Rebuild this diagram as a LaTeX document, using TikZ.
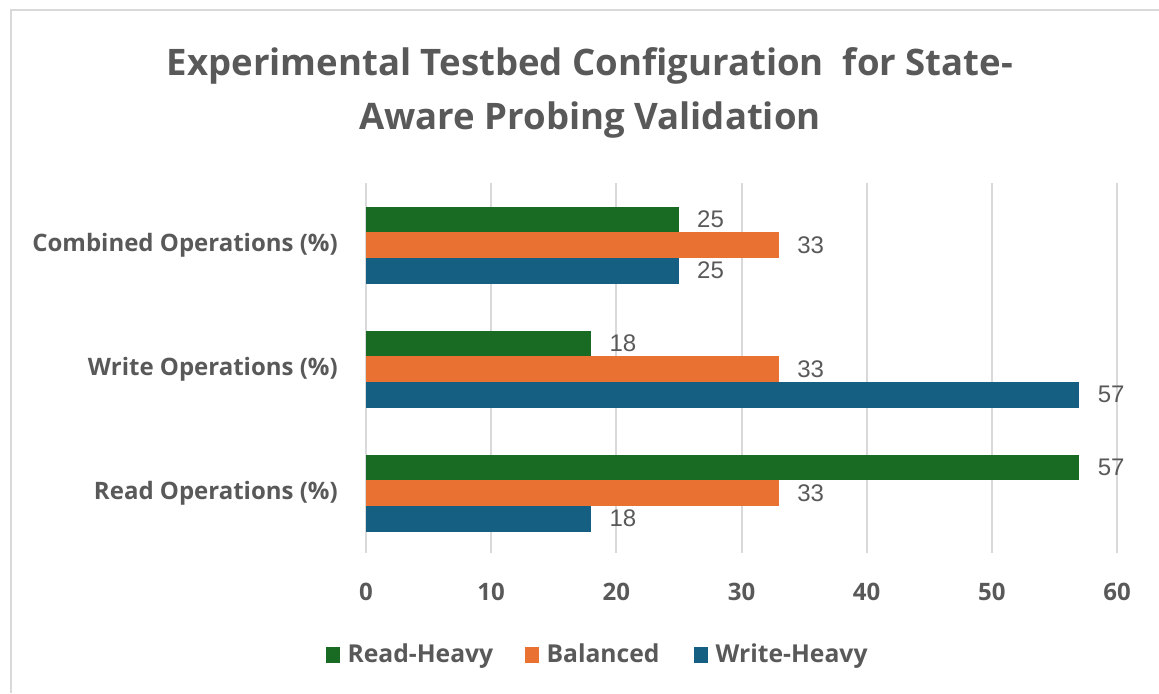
\documentclass[tikz,border=0pt]{standalone}
\usepackage{fontspec}
\setmainfont{Open Sans}
\newfontfamily\valuefont{Liberation Sans}
\usetikzlibrary{positioning}
\definecolor{readheavy}{HTML}{196B24}
\definecolor{balanced}{HTML}{E97132}
\definecolor{writeheavy}{HTML}{156082}
\definecolor{charttext}{HTML}{595959}
\definecolor{gridgray}{HTML}{D9D9D9}
\tikzset{
  frame line/.style={draw=gridgray, line width=1.5pt},
  grid line/.style={draw=gridgray, line width=1.5pt},
  chart title/.style={
    text=charttext,
    font=\bfseries\fontsize{27.4}{41}\selectfont,
    align=center,
  },
  cat label/.style={
    anchor=east, inner sep=0pt, text=charttext,
    font=\bfseries\fontsize{18}{18}\selectfont,
  },
  tick label/.style={
    inner sep=0pt, text=charttext,
    font=\bfseries\fontsize{18}{18}\selectfont,
  },
  value label/.style={
    anchor=west, inner sep=0pt, text=charttext,
    font=\valuefont\fontsize{18}{18}\selectfont,
  },
  legend key/.style={
    fill=#1, minimum width=11pt, minimum height=11.5pt, inner sep=0pt,
  },
  legend label/.style={
    inner sep=0pt, text=charttext,
    font=\bfseries\fontsize{18.5}{18.5}\selectfont,
  },
}

\begin{document}
\begin{tikzpicture}[x=0.75pt, y=-0.75pt]
        \useasboundingbox (0,0) rectangle (1159,693);
        \draw[frame line] (10.5,693) -- (10.5,10) -- (1159,10);

        \node[chart title] (title) at (590,93)
            {Experimental Testbed Configuration\ \ for State-\\Aware Probing Validation};

        % gridlines and axis numbers
        \foreach \t in {0,10,...,60} {
            \draw[grid line] (366+12.517*\t,183) -- (366+12.517*\t,553);
            \node[tick label] (tick\t) at (366+12.517*\t,592) {\t};
        }

        % bars: centre y / read-heavy / balanced / write-heavy
        \foreach \y/\r/\b/\w in {245/25/33/25, 369/18/33/57, 493/57/33/18} {
            \fill[readheavy] (366,\y-38.5) rectangle ++(12.517*\r,25.7);
            \fill[balanced] (366,\y-12.8) rectangle ++(12.517*\b,25.6);
            \fill[writeheavy] (366,\y+12.8) rectangle ++(12.517*\w,25.7);
            \node[value label] (val r\y) at (384+12.517*\r,\y-25.7) {\r};
            \node[value label] (val b\y) at (384+12.517*\b,\y) {\b};
            \node[value label] (val w\y) at (384+12.517*\w,\y+25.7) {\w};
        }

        \node[cat label] (combined) at (338,245) {Combined Operations (\%)};
        \node[cat label] (write) at (338,369) {Write Operations (\%)};
        \node[cat label] (read) at (338,493) {Read Operations (\%)};

        % legend
        \node[legend key=readheavy] (key r) at (333,655) {};
        \node[legend label, right=5pt of key r.south east, anchor=base west] (lab r) {Read-Heavy};
        \node[legend key=balanced] (key b) at (532,655) {};
        \node[legend label, right=5pt of key b.south east, anchor=base west] (lab b) {Balanced};
        \node[legend key=writeheavy] (key w) at (701,655) {};
        \node[legend label, right=5pt of key w.south east, anchor=base west] (lab w) {Write-Heavy};
    \end{tikzpicture}
\end{document}
